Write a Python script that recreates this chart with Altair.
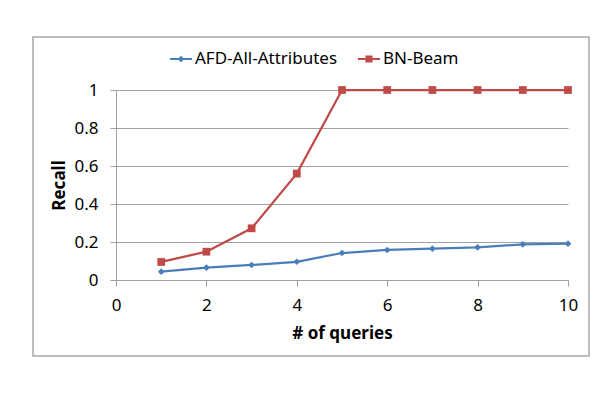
import altair as alt
import pandas as pd

queries = [1, 2, 3, 4, 5, 6, 7, 8, 9, 10]
afd_recall = [0.044, 0.065, 0.079, 0.096, 0.142, 0.158, 0.165, 0.172, 0.188, 0.191]
bn_recall = [0.095, 0.149, 0.272, 0.56, 1.0, 1.0, 1.0, 1.0, 1.0, 1.0]
series = ["AFD-All-Attributes", "BN-Beam"]
colors = ["#4a7ebb", "#be4b48"]
shapes = ["diamond", "square"]
x_ticks = [0, 2, 4, 6, 8, 10]
y_ticks = [0, 0.2, 0.4, 0.6, 0.8, 1]

rows = []
for q, a, b in zip(queries, afd_recall, bn_recall):
    rows.append({"q": q, "recall": a, "series": series[0]})
    rows.append({"q": q, "recall": b, "series": series[1]})
df = pd.DataFrame(rows)

FONT = "Noto Sans"
GRID = "#a0a0a0"
FS = 17

x_enc = alt.X(
    "q:Q",
    scale=alt.Scale(domain=[0, 10], nice=False, zero=False),
    axis=alt.Axis(
        values=x_ticks, grid=False, title="# of queries",
        domainColor=GRID, tickColor=GRID, tickSize=6,
        labelFont=FONT, labelFontSize=FS, labelColor="#000000", labelPadding=11,
        labelOverlap=False, labelFlush=False,
        titleFont=FONT, titleFontSize=FS, titleFontWeight="bold", titleColor="#000000",
        titleY=53, titleBaseline="middle",
    ),
)
y_enc = alt.Y(
    "recall:Q",
    scale=alt.Scale(domain=[0, 1], nice=False),
    axis=alt.Axis(
        values=y_ticks, grid=True, gridColor=GRID, format="~g", title="Recall",
        domainColor=GRID, tickColor=GRID, tickSize=6,
        labelFont=FONT, labelFontSize=FS, labelColor="#000000", labelPadding=12,
        labelOverlap=False, labelFlush=False,
        titleFont=FONT, titleFontSize=FS, titleFontWeight="bold", titleColor="#000000",
        titleX=-57, titleY=95, titleBaseline="middle", titleAlign="center", titleAngle=270,
    ),
)

# legend glyphs: a short filled bar (the line) plus the marker
diamond_path = "M-1,-0.09L1,-0.09L1,0.09L-1,0.09Z M0,-0.3L0.3,0L0,0.3L-0.3,0Z"
square_path = "M-1,-0.09L1,-0.09L1,0.09L-1,0.09Z M-0.32,-0.32L0.32,-0.32L0.32,0.32L-0.32,0.32Z"

legend = alt.Legend(
    title=None, orient="none", direction="horizontal",
    legendX=54, legendY=-42,
    labelFont=FONT, labelFontSize=FS, labelColor="#000000",
    symbolSize=484, symbolStrokeWidth=0, symbolOpacity=1,
    symbolFillColor="#000000",
    labelOffset=3, columnPadding=20,
)

color_scale = alt.Scale(domain=series, range=colors)

border = alt.Chart(pd.DataFrame({"a": [0]})).mark_rect(
    filled=False, stroke="#a8a8a8", strokeWidth=1.5, clip=False
).encode(
    x=alt.value(-83), x2=alt.value(473), y=alt.value(-53), y2=alt.value(266)
)

lines = alt.Chart(df).mark_line(strokeWidth=2.25).encode(
    x=x_enc, y=y_enc,
    color=alt.Color("series:N", scale=color_scale, legend=legend),
)

point_layers = []
for s, c, sh, sz in zip(series, colors, shapes, [45, 60]):
    point_layers.append(
        alt.Chart(df).transform_filter(alt.datum.series == s).mark_point(
            filled=True, opacity=1, shape=sh, size=sz, color=c
        ).encode(x=x_enc, y=y_enc)
    )

# legend-only layer: no rows survive the filter, legend entries come from the scale domain
legend_layer = alt.Chart(df).transform_filter("false").mark_point(filled=True, opacity=1).encode(
    x=x_enc, y=y_enc,
    color=alt.Color("series:N", scale=color_scale, legend=legend),
    shape=alt.Shape("series:N", scale=alt.Scale(domain=series, range=[diamond_path, square_path]), legend=legend),
)

chart = alt.layer(border, lines, *point_layers, legend_layer).properties(
    width=452, height=190,
    autosize=alt.AutoSizeParams(type="none"),
    padding={"left": 108, "top": 82, "right": 22, "bottom": 106},
    background="white",
).configure_view(stroke=None)

chart.save("out.html", embed_options={"renderer": "svg", "actions": False})
